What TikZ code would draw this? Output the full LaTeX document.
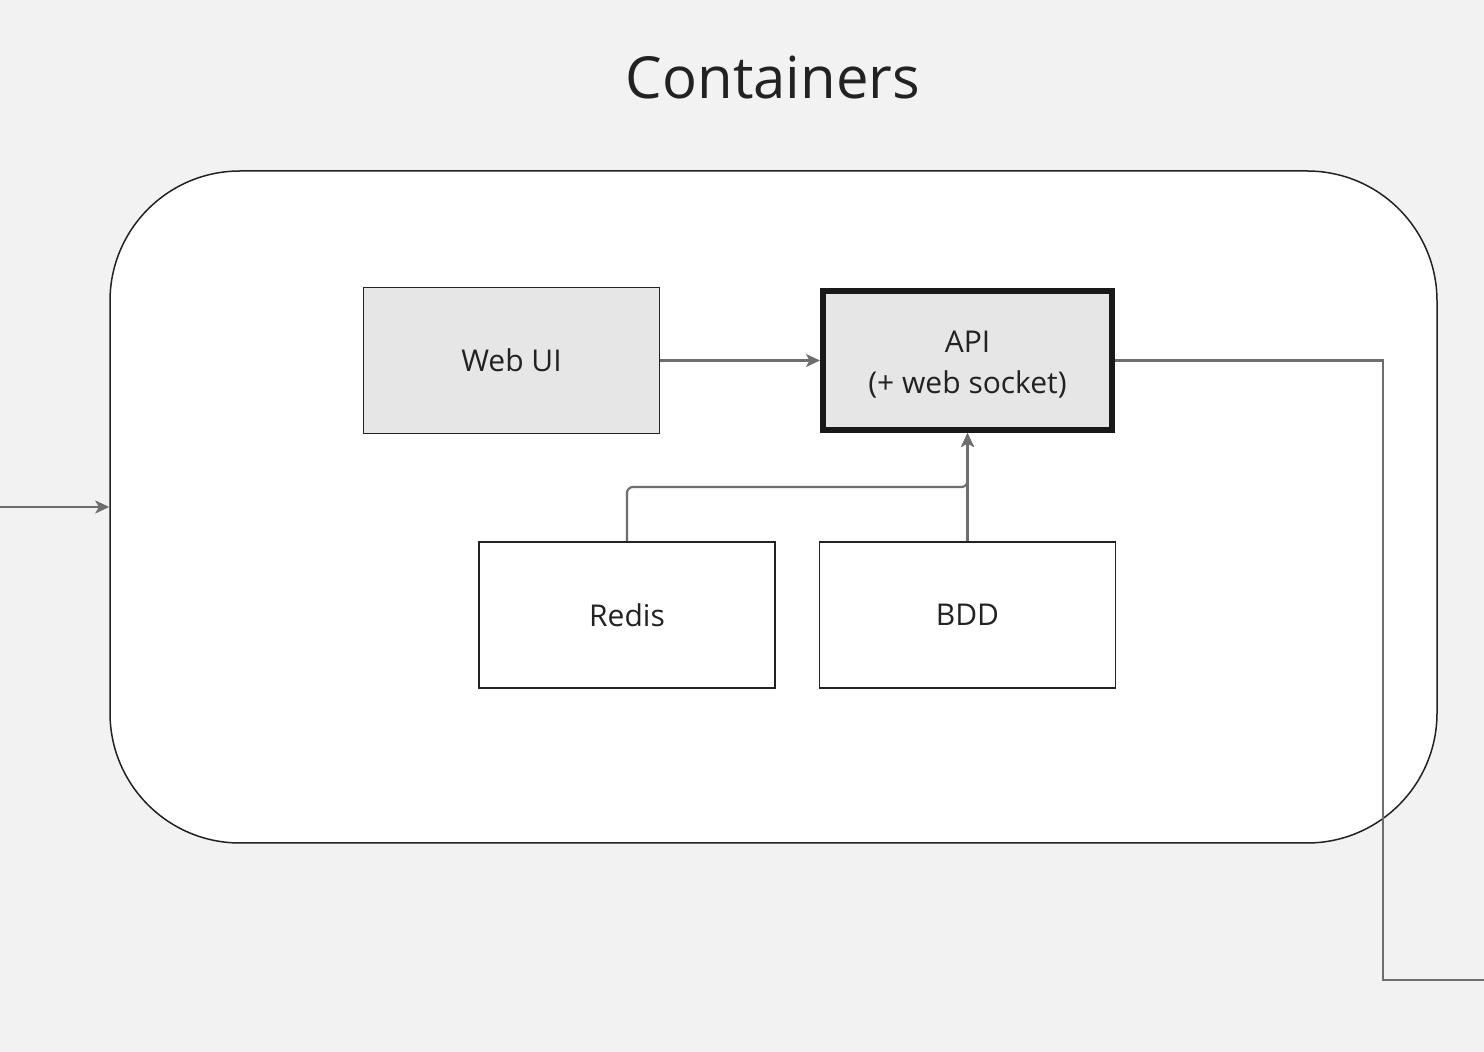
\documentclass[tikz,border=0pt]{standalone}
\usepackage{fontspec}
\setmainfont{Open Sans}
\usepackage{xcolor}
\usepackage{tikz}
\usetikzlibrary{arrows.meta}
\definecolor{canvas}{HTML}{F2F2F2}
\definecolor{boxfill}{HTML}{E6E6E6}
\definecolor{edgegray}{HTML}{6E6E6E}
\definecolor{inkdark}{HTML}{222222}
\tikzset{
    cnode/.style = {align=center, inner sep=0pt, text centered, font=\fontsize{15}{20.5}\selectfont, text=inkdark},
    service/.style = {cnode, rectangle, draw=inkdark, line width=0.75pt, minimum width=148pt, minimum height=73pt},
    front/.style = {service, fill=boxfill},
    core/.style = {cnode, rectangle, draw=black!90, fill=boxfill, line width=3pt, minimum width=144.5pt, minimum height=69.5pt},
    group/.style = {rectangle, draw=inkdark, fill=white, line width=0.75pt, rounded corners=65pt, minimum width=663.5pt, minimum height=336pt},
    link/.style = {draw=edgegray, line width=1.1pt}
}
\begin{document}
\begin{tikzpicture}
            [x=0.5pt, y=-0.5pt, ->, >={Stealth[length=7pt, width=6.5pt, inset=1.8pt]}]

            % canvas
            \fill[canvas] (0,0) rectangle (1484,1052);
            \useasboundingbox (0,0) rectangle (1484,1052);

            \node [font=\fontsize{29}{34}\selectfont, text=inkdark] (title) at (773,78) {Containers};

            \node [group] (containers) at (773.5,507) {};

            \node [front] (webui) at (511.5,360.5) {Web UI};
            \node [core] (api) at (967.5,360.5) {\rule{0pt}{14.5pt}API\\(+ web socket)};
            \node [service] (redis) at (627,615) {Redis};
            \node [service] (bdd) at (967.5,615) {BDD};

            \coordinate (inlet) at (0,507);
            \coordinate (rbend) at (967.5,487);
            \coordinate (outlet) at (1484,980);

            % connectors
            \draw [link] (inlet) -- (containers.west);
            \draw [link] (webui.east) -- (api.west);
            \draw [link, rounded corners=3pt] (redis.north) |- (rbend) -- (api.south);
            \draw [link] (bdd.north) -- (api.south);
            \draw [link, -] (api.east) -| (1383,980) -- (outlet);
        \end{tikzpicture}
\end{document}
